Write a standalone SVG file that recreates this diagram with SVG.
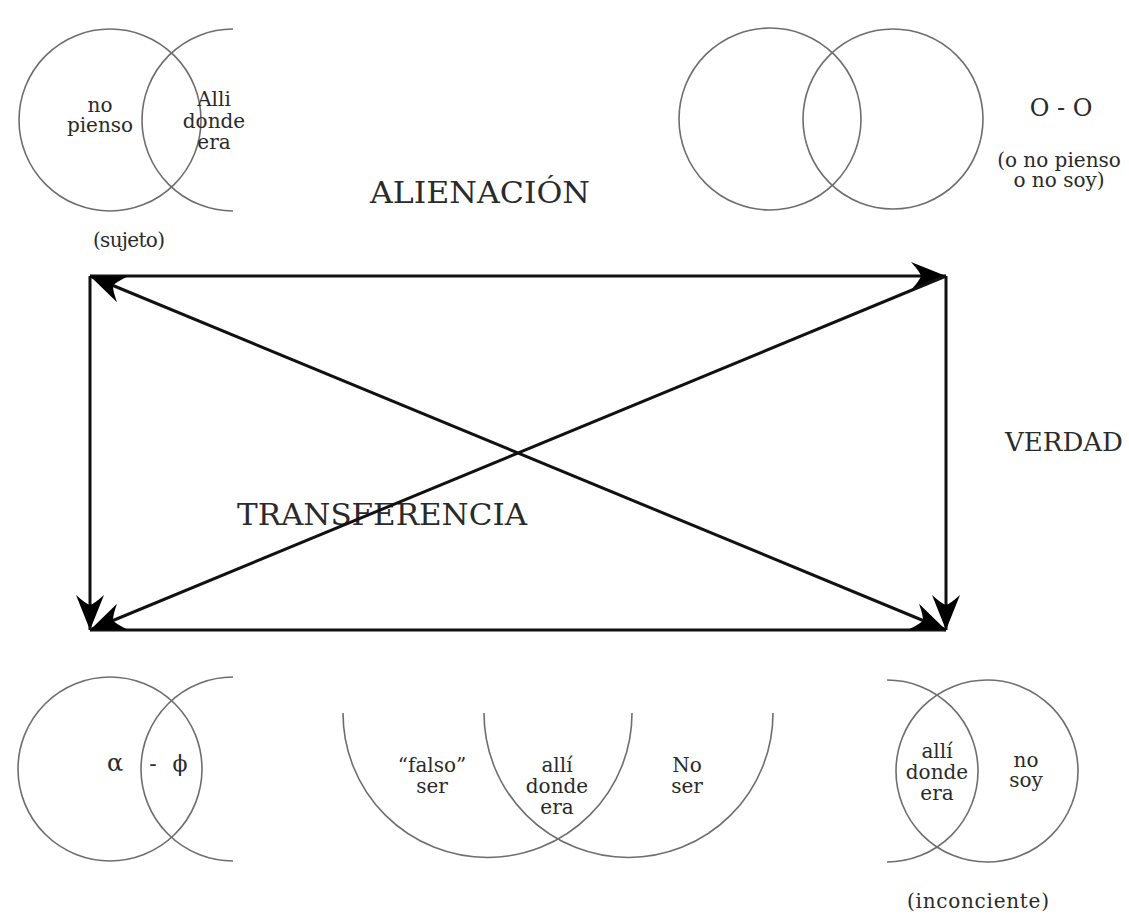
<svg xmlns="http://www.w3.org/2000/svg" width="1129" height="923" viewBox="0 0 1129 923">
<style>
.c{fill:none;stroke:#6e6e6e;stroke-width:1.6}
.t{font-family:"DejaVu Serif","Liberation Serif",serif;fill:#2a2a2a;text-anchor:middle}
.s{font-size:20px}
.big{font-size:30px}
.ln{stroke:#111;stroke-width:3;fill:none}
</style>
<defs>
<marker id="ah" markerUnits="userSpaceOnUse" markerWidth="40" markerHeight="32" viewBox="-36 -16 38 32" refX="0" refY="0" orient="auto-start-reverse">
<path d="M0,0 L-35,-14 Q-26,-4 -25,0 Q-26,4 -35,14 Z" fill="#000"/>
</marker>
</defs>
<rect width="1129" height="923" fill="#fff"/>

<g id="sujeto">
<circle class="c" cx="110" cy="120" r="91"/>
<path class="c" d="M233,29 A91,91 0 0 0 233,211"/>
<text class="t s" x="100" y="112">no<tspan x="100" dy="20">pienso</tspan></text>
<text class="t s" x="214" y="106">Alli<tspan x="214" dy="22">donde</tspan><tspan x="214" dy="21">era</tspan></text>
<text class="t s" x="129" y="247" textLength="72" lengthAdjust="spacing">(sujeto)</text>
</g>

<g id="oo">
<circle class="c" cx="770" cy="119" r="91"/>
<circle class="c" cx="893" cy="119" r="90"/>
<text class="t" style="font-size:24px" x="1061" y="116">O - O</text>
<text class="t s" x="1059" y="167">(o no pienso<tspan x="1059" dy="20">o no soy)</tspan></text>
</g>

<g id="alienacion">
<text class="t big" x="480" y="203" textLength="220" lengthAdjust="spacingAndGlyphs">ALIENACIÓN</text>
</g>

<g id="verdad">
<text class="t" style="font-size:26px" x="1064" y="451">VERDAD</text>
</g>

<g id="transferencia">
<text class="t big" x="382" y="525" textLength="290" lengthAdjust="spacingAndGlyphs">TRANSFERENCIA</text>
</g>

<g id="connectors">
<line class="ln" x1="90" y1="276" x2="946" y2="276" marker-end="url(#ah)"/>
<line class="ln" x1="946" y1="276" x2="946" y2="630" marker-end="url(#ah)"/>
<line class="ln" x1="90" y1="276" x2="90" y2="630" marker-end="url(#ah)"/>
<line class="ln" x1="946" y1="630" x2="90" y2="630"/>
<line class="ln" x1="946" y1="276" x2="90" y2="630" marker-end="url(#ah)"/>
<line class="ln" x1="90" y1="276" x2="946" y2="630" marker-start="url(#ah)" marker-end="url(#ah)"/>
</g>

<g id="a-phi">
<circle class="c" cx="110" cy="769" r="92"/>
<path class="c" d="M233,677 A92,92 0 0 0 233,861"/>
<text class="t" style="font-size:24px" x="115" y="771">α</text>
<text class="t" style="font-size:22px" x="153" y="771">-</text>
<text class="t" style="font-size:22px" x="180" y="771">ϕ</text>
</g>

<g id="falso-ser">
<path class="c" d="M343,713 A144.5,144.5 0 0 0 632,713"/>
<path class="c" d="M484,713 A144.5,144.5 0 0 0 773,713"/>
<text class="t s" x="432" y="772">“falso”<tspan x="432" dy="21">ser</tspan></text>
<text class="t s" x="557" y="772">allí<tspan x="557" dy="21">donde</tspan><tspan x="557" dy="21">era</tspan></text>
<text class="t s" x="687" y="772">No<tspan x="687" dy="21">ser</tspan></text>
</g>

<g id="inconciente">
<circle class="c" cx="987" cy="771" r="91"/>
<path class="c" d="M887,680 A91,91 0 0 1 887,862"/>
<text class="t s" x="937" y="758">allí<tspan x="937" dy="21">donde</tspan><tspan x="937" dy="21">era</tspan></text>
<text class="t s" x="1026" y="767">no<tspan x="1026" dy="20">soy</tspan></text>
<text class="t s" x="978" y="908" textLength="142" lengthAdjust="spacing">(inconciente)</text>
</g>
</svg>
